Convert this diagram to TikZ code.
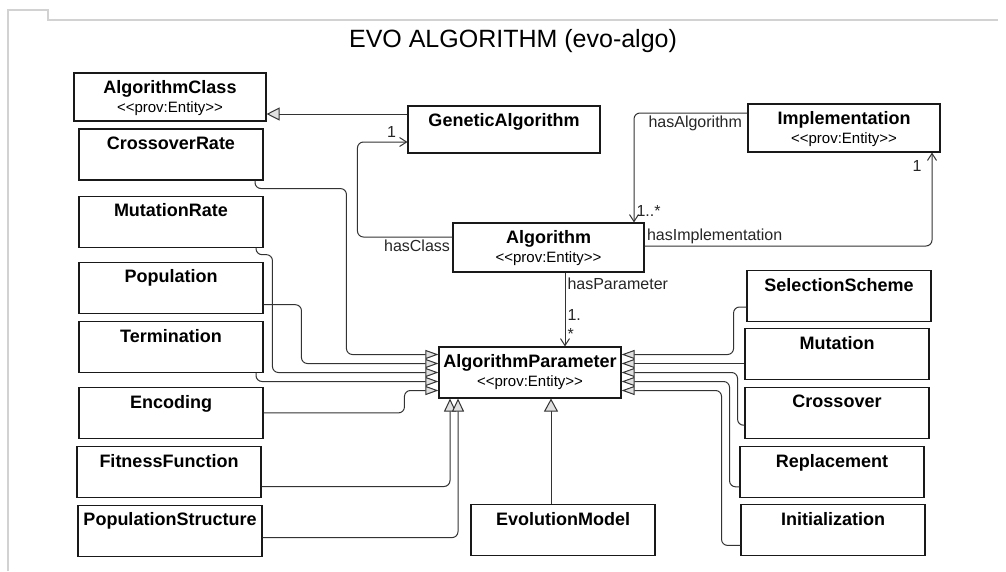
\documentclass[tikz,border=0pt]{standalone}
\usepackage{fontspec}
\setmainfont{Liberation Sans}
\usetikzlibrary{positioning,arrows.meta}
\newcommand{\Stereo}{{\mdseries\fontsize{15}{19}\selectfont <{}<prov:Entity>{}>}}

\begin{document}
\begin{tikzpicture}[x=1pt,y=-1pt]
	\tikzset{
	  BoxStyle/.style = {draw=black!90, line width=1.1pt, minimum width=184pt,
	                     minimum height=51pt, inner sep=0pt,
	                     label={[TitleStyle]north:{#1}}},
	  EntityStyle/.style = {draw=black!90, line width=1.1pt, minimum width=192pt,
	                        minimum height=48pt, inner sep=0pt,
	                        label={[TitleStyle]north:{#1\\\Stereo}}},
	  TitleStyle/.style = {anchor=north, yshift=-8pt, inner sep=0pt, align=center,
	                       font=\fontsize{18}{19}\selectfont\bfseries},
	  LabelStyle/.style = {font=\fontsize{16}{19}\selectfont, inner sep=2pt, text=black!85},
	  EdgeStyle/.style = {draw=black!80, line width=1pt, rounded corners=6pt,
	                      -{Straight Barb[length=7pt, width=9pt]}},
	  GenStyle/.style = {draw=black!80, line width=1pt, rounded corners=6pt,
	                     -{Triangle[open, length=13pt, width=#1, fill=black!12]}},
	  GenStyle/.default = 12pt
	}
	\path[fill=white] (0,0) rectangle (1006,571);
	\useasboundingbox (0,0) rectangle (1006,571);
	\draw[gray!35, line width=1.5pt] (8,571) -- (8,10) -- (48,10) -- (48,20) -- (998,20);
	\node[font=\fontsize{25}{30}\selectfont, anchor=base] (Title) at (513,47) {EVO ALGORITHM (evo-algo)};

	% upper part
	\node[EntityStyle=AlgorithmClass] (AlgorithmClass) at (170,97) {};
	\node[BoxStyle=GeneticAlgorithm, minimum width=192pt, minimum height=47pt] (GeneticAlgorithm) at (504,129.5) {};
	\node[EntityStyle=Implementation] (Implementation) at (844,128) {};
	\node[EntityStyle=Algorithm, minimum width=191pt, minimum height=49pt] (Algorithm) at (548.5,247.5) {};
	\node[EntityStyle=AlgorithmParameter, minimum width=182pt, minimum height=51pt] (AlgorithmParameter) at (530,372.5) {};

	% left column
	\node[BoxStyle=CrossoverRate] (CrossoverRate) at (171,154.5) {};
	\node[BoxStyle=MutationRate, below=15pt of CrossoverRate] (MutationRate) {};
	\node[BoxStyle=Population, below=14pt of MutationRate] (Population) {};
	\node[BoxStyle=Termination, below=7pt of Population] (Termination) {};
	\node[BoxStyle=Encoding, below=14pt of Termination] (Encoding) {};
	\node[BoxStyle=FitnessFunction, below=7pt of Encoding, xshift=-2pt] (FitnessFunction) {};
	\node[BoxStyle=PopulationStructure, below=6.5pt of FitnessFunction, xshift=1pt] (PopulationStructure) {};

	% right column
	\node[BoxStyle=SelectionScheme] (SelectionScheme) at (839,296) {};
	\node[BoxStyle=Mutation, below=6pt of SelectionScheme, xshift=-2pt] (Mutation) {};
	\node[BoxStyle=Crossover, below=7pt of Mutation] (Crossover) {};
	\node[BoxStyle=Replacement, below=6.5pt of Crossover, xshift=-5pt] (Replacement) {};
	\node[BoxStyle=Initialization, below=6.5pt of Replacement, xshift=1pt] (Initialization) {};

	\node[BoxStyle=EvolutionModel] (EvolutionModel) at (563,530) {};

	% ports of AlgorithmParameter
	\foreach \n/\dy in {1/18,2/9,3/0,4/-9,5/-18} {
	  \coordinate (pw\n) at ([yshift=\dy pt]AlgorithmParameter.west);
	  \coordinate (pe\n) at ([yshift=\dy pt]AlgorithmParameter.east);
	}

	% associations
	\draw[GenStyle=13pt] ([yshift=15.5pt]GeneticAlgorithm.west)
	  -- ([yshift=15.5pt]GeneticAlgorithm.west -| AlgorithmClass.east);
	\draw[EdgeStyle] ([yshift=10.5pt]Algorithm.west) node[LabelStyle, below left]{hasClass}
	  -| ([xshift=-50pt, yshift=-12.5pt]GeneticAlgorithm.west)
	  -- ([yshift=-12.5pt]GeneticAlgorithm.west) node[LabelStyle, anchor=south east, xshift=-9pt, yshift=2pt]{1};
	\draw[EdgeStyle] ([yshift=15pt]Implementation.west) node[LabelStyle, below left, xshift=-3pt]{hasAlgorithm}
	  -| ([xshift=85.5pt]Algorithm.north) node[LabelStyle, above right, yshift=3pt]{1..*};
	\draw[EdgeStyle] ([yshift=1.5pt]Algorithm.east) node[LabelStyle, above right]{hasImplementation}
	  -| ([xshift=88pt]Implementation.south) node[LabelStyle, anchor=north east, xshift=-8pt, yshift=-5pt]{1};
	\draw[EdgeStyle] ([xshift=16.5pt]Algorithm.south) node[LabelStyle, below right, yshift=-3pt]{hasParameter}
	  -- ([xshift=16.5pt]Algorithm.south |- AlgorithmParameter.north)
	  node[LabelStyle, above right, align=left, yshift=4pt]{1.\\*};

	% generalizations, left
	\draw[GenStyle=9pt] ([xshift=84pt]CrossoverRate.south) -- ++(0,8) -| ([xshift=-92pt]pw1) -- (pw1);
	\draw[GenStyle=9pt] ([yshift=-17pt]Population.east) -| ([xshift=-137pt]pw2) -- (pw2);
	\draw[GenStyle=9pt] ([xshift=85pt]MutationRate.south) -- ++(0,7) -| ([xshift=-166pt]pw3) -- (pw3);
	\draw[GenStyle=9pt] ([xshift=85pt]Termination.south) |- (pw4);
	\draw[GenStyle=9pt] (Encoding.east) -| ([xshift=-34pt]pw5) -- (pw5);

	% generalizations, right
	\draw[GenStyle=9pt] ([yshift=-11pt]SelectionScheme.west) -| ([xshift=112pt]pe1) -- (pe1);
	\draw[GenStyle=9pt] (pe2 -| Mutation.west) -- (pe2);
	\draw[GenStyle=9pt] ([yshift=-12pt]Crossover.west) -| ([xshift=116pt]pe3) -- (pe3);
	\draw[GenStyle=9pt] ([yshift=-15pt]Replacement.west) -| ([xshift=108pt]pe4) -- (pe4);
	\draw[GenStyle=9pt] ([yshift=-15pt]Initialization.west) -| ([xshift=100pt]pe5) -- (pe5);

	% generalizations, below
	\draw[GenStyle] ([yshift=-14.5pt]FitnessFunction.east) -| ([xshift=-80pt]AlgorithmParameter.south);
	\draw[GenStyle] ([yshift=-7pt]PopulationStructure.east) -| ([xshift=-72pt]AlgorithmParameter.south);
	\draw[GenStyle=14pt] ([xshift=-12pt]EvolutionModel.north) -- ([xshift=21pt]AlgorithmParameter.south);
\end{tikzpicture}
\end{document}
